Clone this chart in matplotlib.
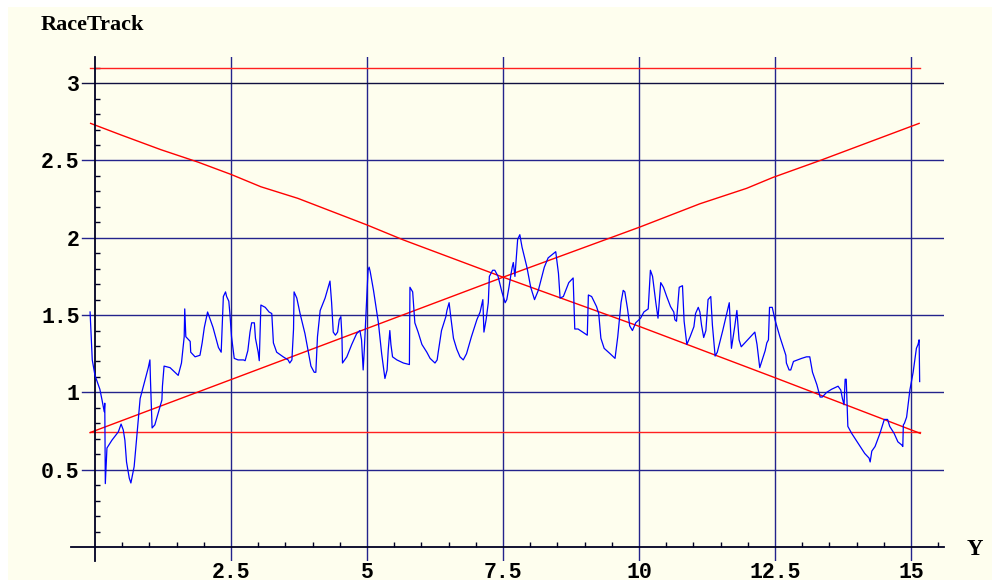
import matplotlib
matplotlib.use("Agg")
import matplotlib.pyplot as plt
from matplotlib.patches import Rectangle
from matplotlib.ticker import FixedLocator
import numpy as np

# blue trace (x, y)
track_x = [-0.09, -0.05, 0.00, 0.09, 0.13, 0.17, 0.18, 0.19, 0.22, 0.31, 0.43, 0.48,
           0.52, 0.55, 0.58, 0.63, 0.66, 0.72, 0.78, 0.83, 0.89, 0.98, 1.01, 1.02,
           1.05, 1.10, 1.23, 1.24, 1.27, 1.38, 1.47, 1.53, 1.59, 1.64, 1.65, 1.67,
           1.75, 1.76, 1.84, 1.93, 1.97, 2.01, 2.07, 2.17, 2.27, 2.32, 2.36, 2.40,
           2.42, 2.46, 2.48, 2.51, 2.56, 2.63, 2.73, 2.76, 2.81, 2.85, 2.88, 2.93,
           2.95, 3.00, 3.02, 3.05, 3.13, 3.20, 3.25, 3.28, 3.34, 3.46, 3.55, 3.58,
           3.62, 3.65, 3.66, 3.71, 3.77, 3.86, 3.97, 4.03, 4.06, 4.09, 4.14, 4.23,
           4.32, 4.35, 4.38, 4.42, 4.46, 4.49, 4.52, 4.54, 4.55, 4.63, 4.72, 4.81,
           4.87, 4.90, 4.93, 4.95, 4.98, 4.99, 5.02, 5.04, 5.06, 5.12, 5.21, 5.27,
           5.33, 5.37, 5.39, 5.42, 5.44, 5.47, 5.55, 5.67, 5.78, 5.79, 5.84, 5.88,
           5.94, 6.01, 6.10, 6.16, 6.25, 6.29, 6.31, 6.37, 6.45, 6.47, 6.51, 6.54,
           6.59, 6.65, 6.71, 6.77, 6.83, 6.92, 7.02, 7.08, 7.13, 7.15, 7.19, 7.23,
           7.25, 7.31, 7.35, 7.41, 7.48, 7.54, 7.57, 7.61, 7.65, 7.67, 7.69, 7.72,
           7.77, 7.81, 7.85, 7.94, 8.01, 8.08, 8.15, 8.26, 8.33, 8.47, 8.52, 8.55,
           8.61, 8.71, 8.79, 8.82, 8.88, 9.01, 9.05, 9.07, 9.13, 9.22, 9.26, 9.30,
           9.36, 9.47, 9.56, 9.61, 9.67, 9.71, 9.74, 9.79, 9.83, 9.88, 9.94, 10.03,
           10.09, 10.17, 10.21, 10.25, 10.31, 10.35, 10.40, 10.45, 10.51, 10.58, 10.64, 10.66,
           10.69, 10.74, 10.80, 10.83, 10.88, 10.94, 11.01, 11.04, 11.09, 11.12, 11.15, 11.19,
           11.23, 11.27, 11.32, 11.35, 11.40, 11.44, 11.54, 11.62, 11.66, 11.70, 11.76, 11.80,
           11.84, 11.88, 12.13, 12.17, 12.22, 12.32, 12.35, 12.38, 12.40, 12.45, 12.50, 12.59,
           12.70, 12.71, 12.76, 12.79, 12.84, 12.99, 13.08, 13.14, 13.19, 13.27, 13.33, 13.37,
           13.45, 13.54, 13.66, 13.71, 13.74, 13.77, 13.79, 13.81, 13.84, 13.91, 14.03, 14.15,
           14.23, 14.25, 14.28, 14.34, 14.43, 14.51, 14.57, 14.61, 14.69, 14.76, 14.83, 14.85,
           14.86, 14.88, 14.92, 14.98, 15.04, 15.10, 15.13, 15.15, 15.16]
track_y = [1.52, 1.21, 1.11, 1.02, 0.95, 0.875, 0.93, 0.41, 0.64, 0.69, 0.745, 0.795,
           0.757, 0.69, 0.55, 0.446, 0.414, 0.52, 0.757, 0.96, 1.04, 1.16, 1.21, 1.08,
           0.77, 0.79, 0.95, 1.04, 1.17, 1.16, 1.13, 1.11, 1.19, 1.36, 1.54, 1.36,
           1.33, 1.26, 1.23, 1.24, 1.32, 1.42, 1.52, 1.42, 1.29, 1.26, 1.62, 1.65,
           1.62, 1.59, 1.51, 1.36, 1.22, 1.21, 1.21, 1.205, 1.27, 1.39, 1.45, 1.45,
           1.35, 1.26, 1.205, 1.565, 1.55, 1.52, 1.51, 1.32, 1.26, 1.23, 1.21, 1.19,
           1.21, 1.41, 1.65, 1.61, 1.51, 1.38, 1.17, 1.13, 1.13, 1.36, 1.53, 1.61,
           1.72, 1.58, 1.39, 1.37, 1.39, 1.47, 1.49, 1.36, 1.19, 1.23, 1.31, 1.38,
           1.40, 1.34, 1.145, 1.27, 1.50, 1.57, 1.79, 1.81, 1.78, 1.66, 1.45, 1.25,
           1.09, 1.145, 1.27, 1.40, 1.31, 1.23, 1.21, 1.19, 1.18, 1.68, 1.65, 1.45,
           1.39, 1.31, 1.26, 1.22, 1.19, 1.21, 1.26, 1.40, 1.49, 1.53, 1.58, 1.49,
           1.35, 1.28, 1.23, 1.21, 1.25, 1.36, 1.47, 1.52, 1.60, 1.39, 1.47, 1.58,
           1.75, 1.79, 1.79, 1.75, 1.65, 1.58, 1.60, 1.68, 1.77, 1.81, 1.84, 1.75,
           1.99, 2.02, 1.94, 1.81, 1.68, 1.60, 1.66, 1.81, 1.87, 1.91, 1.77, 1.61,
           1.62, 1.71, 1.74, 1.41, 1.41, 1.38, 1.37, 1.63, 1.62, 1.555, 1.51, 1.35,
           1.285, 1.25, 1.22, 1.36, 1.58, 1.66, 1.65, 1.54, 1.43, 1.40, 1.45, 1.48,
           1.52, 1.54, 1.79, 1.75, 1.58, 1.48, 1.71, 1.68, 1.62, 1.555, 1.52, 1.47,
           1.46, 1.68, 1.69, 1.46, 1.31, 1.36, 1.425, 1.51, 1.55, 1.52, 1.435, 1.355,
           1.40, 1.60, 1.62, 1.435, 1.235, 1.26, 1.40, 1.52, 1.58, 1.285, 1.425, 1.53,
           1.34, 1.295, 1.39, 1.31, 1.16, 1.27, 1.32, 1.34, 1.55, 1.55, 1.47, 1.36,
           1.24, 1.19, 1.145, 1.145, 1.20, 1.22, 1.23, 1.23, 1.13, 1.05, 0.97, 0.97,
           1.00, 1.02, 1.04, 1.015, 0.96, 0.92, 1.085, 1.085, 0.78, 0.735, 0.67, 0.605,
           0.575, 0.55, 0.62, 0.65, 0.735, 0.825, 0.825, 0.78, 0.735, 0.68, 0.66, 0.65,
           0.79, 0.80, 0.84, 1.015, 1.13, 1.285, 1.31, 1.34, 1.07]

# red boundaries
bound_lo = 0.744
bound_hi = 3.1
bound_x = [-0.09, 15.17]
down_x = [-0.08, 0.48, 1.21, 1.89, 2.50, 3.05, 3.73, 5.00, 5.67, 7.44, 10.02, 12.50, 15.17]
down_y = [2.74, 2.665, 2.57, 2.49, 2.41, 2.33, 2.255, 2.083, 1.986, 1.753, 1.425, 1.095, 0.735]
up_x = [-0.09, 2.48, 5.05, 7.54, 10.02, 11.12, 11.98, 12.46, 13.33, 15.15]
up_y = [0.74, 1.08, 1.42, 1.75, 2.07, 2.22, 2.32, 2.39, 2.50, 2.74]

xticks = [2.5, 5, 7.5, 10, 12.5, 15]
xlabels = ["2.5", "5", "7.5", "10", "12.5", "15"]
yticks = [0.5, 1, 1.5, 2, 2.5, 3]
ylabels = ["0.5", "1", "1.5", "2", "2.5", "3"]

fig = plt.figure(figsize=(9.92, 5.82), dpi=100)
fig.patch.set_facecolor("white")
fig.patches.append(Rectangle((8 / 992, 2 / 582), 984 / 992, 573 / 582,
                             transform=fig.transFigure, facecolor="#fefeee",
                             edgecolor="none", zorder=-10))

xmin, xmax = -0.45, 15.6
ymin, ymax = -0.09, 3.17
ax = fig.add_axes([70.5 / 992, (582 - 560.9) / 582, 873.1 / 992, 504.0 / 582])
ax.set_facecolor("none")
ax.set_xlim(xmin, xmax)
ax.set_ylim(ymin, ymax)

grid_c = "#23238c"
for v in xticks:
    ax.axvline(v, color=grid_c, lw=1.0, zorder=1)
for v in yticks:
    c = "#101040" if v == 3 else grid_c
    ax.axhline(v, xmin=(-0.24 - xmin) / (xmax - xmin), color=c, lw=1.0, zorder=1)

ax.plot(bound_x, [bound_hi, bound_hi], color="#ff2020", lw=1.0, zorder=2)
ax.plot(bound_x, [bound_lo, bound_lo], color="#ff2020", lw=1.0, zorder=2)
ax.plot(down_x, down_y, color="#ff0000", lw=1.0, zorder=2)
ax.plot(up_x, up_y, color="#ff0000", lw=1.0, zorder=2)
ax.plot(track_x, track_y, color="#0000ff", lw=0.9, zorder=3)

for s in ["top", "right"]:
    ax.spines[s].set_visible(False)
for s in ["left", "bottom"]:
    ax.spines[s].set_position(("data", 0))
    ax.spines[s].set_color("#000022")
    ax.spines[s].set_linewidth(1.3)

ax.set_xticks(xticks)
ax.set_xticklabels(xlabels)
ax.set_yticks(yticks)
ax.set_yticklabels(ylabels)
ax.xaxis.set_minor_locator(FixedLocator(np.arange(0.5, 15.6, 0.5)))
ax.yaxis.set_minor_locator(FixedLocator(np.arange(0.1, 3.15, 0.1)))
ax.tick_params(which="major", length=0)
ax.tick_params(axis="x", which="major", pad=11)
ax.tick_params(axis="y", which="major", pad=11)
ax.tick_params(which="minor", direction="in", length=3.5, width=1.0, color="#000022")
for lab in ax.get_xticklabels() + ax.get_yticklabels():
    lab.set_fontfamily("Liberation Mono")
    lab.set_fontweight("bold")
    lab.set_fontsize(15.5)

fig.text(41 / 992, 1 - 30 / 582, "RaceTrack", family="Liberation Serif",
         weight="bold", fontsize=16, va="baseline", ha="left")
fig.text(967 / 992, 1 - 555 / 582, "Y", family="Liberation Serif",
         weight="bold", fontsize=16.5, va="baseline", ha="left")

fig.savefig("out.png", dpi=100, facecolor=fig.get_facecolor())
